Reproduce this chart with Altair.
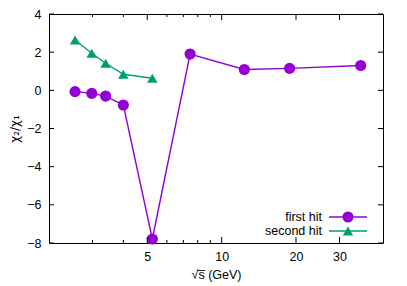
import altair as alt
import pandas as pd

# data
energy = [2.55, 2.98, 3.39, 4.00, 5.24, 7.45, 12.35, 18.84, 36.56]
first_hit = [-0.07, -0.16, -0.30, -0.77, -7.79, 1.90, 1.09, 1.15, 1.30]
second_hit = [2.64, 1.94, 1.42, 0.84, 0.63]
x_major = [5, 10, 20, 30]
x_minor = [3, 4, 6, 7, 8, 9]
y_ticks = [-8, -6, -4, -2, 0, 2, 4]
series_names = ["first hit", "second hit"]

PURPLE = "#9400d3"
GREEN = "#009e73"
W, H = 334, 229
FONT = "Liberation Sans"

df1 = pd.DataFrame({"x": energy, "y": first_hit})
df2 = pd.DataFrame({"x": energy[:len(second_hit)], "y": second_hit})
dmaj = pd.DataFrame({"x": x_major})
dmin = pd.DataFrame({"x": x_minor})
dy = pd.DataFrame({"y": y_ticks})
one = pd.DataFrame({"a": [0]})

xs = alt.Scale(type="log", domain=[2, 45], nice=False)
ys = alt.Scale(domain=[-8, 4], nice=False)

X = alt.X("x:Q", scale=xs,
          axis=alt.Axis(values=x_major, ticks=False, grid=False, domain=False,
                        labelPadding=7, format="d", title="√s̅ (GeV)",
                        titlePadding=6, labelFlush=False))
Y = alt.Y("y:Q", scale=ys,
          axis=alt.Axis(values=y_ticks, ticks=False, grid=False, domain=False,
                        labelPadding=8, title="χ₂/χ₁", titlePadding=5,
                        titleFont="DejaVu Sans", titleFontSize=12))

line1 = alt.Chart(df1).mark_line(color=PURPLE, strokeWidth=1.4).encode(x=X, y=Y)
pts1 = alt.Chart(df1).mark_point(shape="circle", filled=True, opacity=1,
                                 color=PURPLE, size=125).encode(x=X, y=Y)
line2 = alt.Chart(df2).mark_line(color=GREEN, strokeWidth=1.4).encode(x=X, y=Y)
pts2 = alt.Chart(df2).mark_point(shape="triangle-up", filled=True, opacity=1,
                                 color=GREEN, size=110).encode(x=X, y=Y)

tick_style = dict(color="black", strokeWidth=1)
yl = alt.Chart(dy).mark_rule(**tick_style).encode(y=Y, x=alt.value(0), x2=alt.value(5))
yr = alt.Chart(dy).mark_rule(**tick_style).encode(y=Y, x=alt.value(W), x2=alt.value(W - 5))
xb = alt.Chart(dmaj).mark_rule(**tick_style).encode(x=X, y=alt.value(H), y2=alt.value(H - 6))
xt = alt.Chart(dmaj).mark_rule(**tick_style).encode(x=X, y=alt.value(0), y2=alt.value(6))
xbm = alt.Chart(dmin).mark_rule(**tick_style).encode(x=X, y=alt.value(H), y2=alt.value(H - 3))
xtm = alt.Chart(dmin).mark_rule(**tick_style).encode(x=X, y=alt.value(0), y2=alt.value(3))

legend_layers = []
for i, (name, col, shape, size) in enumerate(
        [(series_names[0], PURPLE, "circle", 125),
         (series_names[1], GREEN, "triangle-up", 110)]):
    yy = 203 + 14 * i
    legend_layers.append(
        alt.Chart(one).mark_text(text=name, align="right", baseline="middle",
                                 font=FONT, fontSize=12.5, color="black")
        .encode(x=alt.value(273), y=alt.value(yy)))
    legend_layers.append(
        alt.Chart(one).mark_rule(color=col, strokeWidth=1.4)
        .encode(x=alt.value(280), x2=alt.value(318), y=alt.value(yy)))
    legend_layers.append(
        alt.Chart(one).mark_point(shape=shape, filled=True, opacity=1, color=col, size=size)
        .encode(x=alt.value(299), y=alt.value(yy)))

chart = alt.layer(line1, line2, pts1, pts2, yl, yr, xb, xt, xbm, xtm,
                  *legend_layers).properties(
    width=W, height=H,
    autosize=alt.AutoSizeParams(type="none"),
    padding={"left": 41, "top": 6, "right": 16, "bottom": 42},
).configure_view(stroke="black", strokeWidth=1).configure_axis(
    labelFont=FONT, labelFontSize=12.5, labelColor="black",
    titleFont=FONT, titleFontSize=12.5, titleColor="black", titleFontWeight="normal",
)

chart.save("out.html", embed_options={"renderer": "svg", "actions": False})
